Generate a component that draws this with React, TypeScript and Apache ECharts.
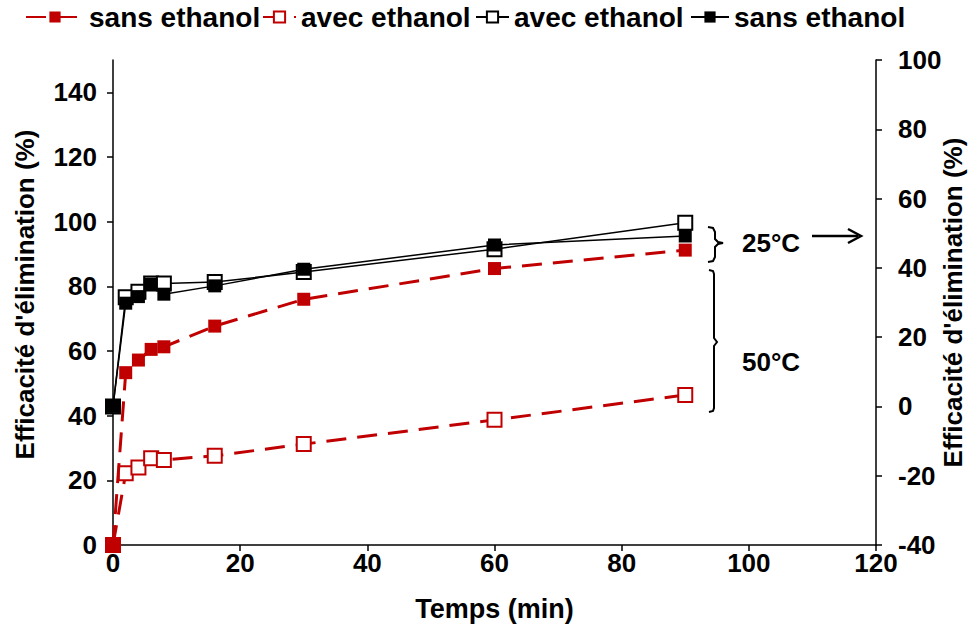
import React, { useEffect, useRef } from "react";
import * as echarts from "echarts";

const times = [0, 2, 4, 6, 8, 16, 30, 60, 90];
const redSans = [0, 53.3, 57.2, 60.5, 61.3, 67.7, 76.0, 85.5, 91.2];
const redAvec = [0, 22.2, 24.0, 26.8, 26.3, 27.6, 31.2, 38.7, 46.4];
const blackAvec = [0, 31.5, 33.1, 35.5, 35.5, 35.9, 38.8, 45.4, 53.0];
const blackSans = [0, 29.8, 31.7, 35.3, 32.4, 34.8, 39.6, 46.6, 49.2];
const leftTicks = [0, 20, 40, 60, 80, 100, 120, 140];
const xTicks = [0, 20, 40, 60, 80, 100, 120];
const rightTicks = [-40, -20, 0, 20, 40, 60, 80, 100];
const seriesNames = [
  "sans ethanol (50°C)",
  "avec ethanol (50°C)",
  "avec ethanol (25°C)",
  "sans ethanol (25°C)",
];

const RED = "#c00000";
const FONT = "Liberation Sans";

const pts = (ys: number[]) => times.map((t, i) => [t, ys[i]]);

export default function App() {
  const ref = useRef<HTMLDivElement>(null);
  useEffect(() => {
    const chart = echarts.init(ref.current!, undefined, { renderer: "svg" });
    const txt = { color: "#000", fontFamily: FONT, fontWeight: "bold" as const, fontSize: 26 };
    const axisLine = { show: true, lineStyle: { color: "#000", width: 1.5 } };
    const axisTick = { show: true, inside: false, length: 6, lineStyle: { color: "#000", width: 1.5 } };
    const legendPos = [
      { left: 25, w: 58 },
      { left: 262, w: 33 },
      { left: 475, w: 33 },
      { left: 690, w: 38 },
    ];
    chart.setOption({
      animation: false,
      backgroundColor: "#fff",
      textStyle: { fontFamily: FONT },
      legend: legendPos.map((p, i) => ({
        top: 3,
        left: p.left,
        padding: 0,
        itemWidth: p.w,
        itemHeight: 14,
        textStyle: { ...txt, fontSize: 28 },
        formatter: (n: string) => n.replace(/ \(.*\)$/, ""),
        data: [seriesNames[i]],
      })),
      grid: { left: 113, right: 103, top: 60, bottom: 90, outerBoundsMode: "none" },
      xAxis: {
        type: "value",
        min: 0,
        max: 120,
        interval: 20,
        name: "Temps (min)",
        nameLocation: "middle",
        nameGap: 50,
        nameTextStyle: { ...txt, fontSize: 27 },
        axisLine,
        axisTick,
        splitLine: { show: false },
        axisLabel: { ...txt, margin: 5, customValues: xTicks },
      },
      yAxis: [
        {
          type: "value",
          min: 0,
          max: 150,
          interval: 20,
          name: "Efficacité d'élimination (%)",
          nameLocation: "middle",
          nameRotate: 90,
          nameGap: 75,
          nameTextStyle: { ...txt, padding: [0, 0, 0, 16] },
          axisLine,
          axisTick: { ...axisTick, customValues: leftTicks },
          splitLine: { show: false },
          axisLabel: { ...txt, margin: 16, customValues: leftTicks },
        },
        {
          type: "value",
          position: "right",
          min: -40,
          max: 100,
          interval: 20,
          name: "Efficacité d'élimination (%)",
          nameLocation: "middle",
          nameRotate: 90,
          nameGap: 64,
          nameMoveOverlap: false,
          nameTextStyle: { ...txt },
          axisLine,
          axisTick: { ...axisTick, customValues: rightTicks },
          splitLine: { show: false },
          axisLabel: { ...txt, margin: 22, customValues: rightTicks },
        },
      ],
      series: [
        {
          name: seriesNames[0],
          type: "line",
          yAxisIndex: 0,
          data: pts(redSans),
          symbol: "rect",
          symbolSize: 13,
          color: RED,
          itemStyle: { color: RED, borderWidth: 0 },
          lineStyle: { color: RED, width: 3, type: [20, 11] },
          z: 3,
        },
        {
          name: seriesNames[1],
          type: "line",
          yAxisIndex: 0,
          data: pts(redAvec),
          symbol: "emptyRect",
          symbolSize: 14,
          color: RED,
          itemStyle: { color: RED, borderColor: RED, borderWidth: 2 },
          lineStyle: { color: RED, width: 3, type: [20, 11] },
          z: 2,
        },
        {
          name: seriesNames[2],
          type: "line",
          yAxisIndex: 1,
          data: pts(blackAvec),
          symbol: "emptyRect",
          symbolSize: 14,
          color: "#000",
          itemStyle: { color: "#000", borderColor: "#000", borderWidth: 2 },
          lineStyle: { color: "#000", width: 1.5 },
          z: 4,
        },
        {
          name: seriesNames[3],
          type: "line",
          yAxisIndex: 1,
          data: pts(blackSans),
          symbol: "rect",
          symbolSize: 13,
          color: "#000",
          itemStyle: { color: "#000", borderWidth: 0 },
          lineStyle: { color: "#000", width: 1.5 },
          z: 5,
        },
      ],
      graphic: [
        {
          type: "polyline",
          shape: {
            points: [
              [708, 227], [713, 228], [715, 232], [715, 239], [718, 242], [723, 243],
              [718, 244], [715, 247], [715, 257], [713, 261], [708, 262],
            ],
          },
          style: { stroke: "#000", lineWidth: 2, fill: null },
        },
        {
          type: "polyline",
          shape: {
            points: [
              [709, 270], [713, 271], [714, 274], [714, 338], [717, 342],
              [714, 346], [714, 408], [713, 411], [709, 412],
            ],
          },
          style: { stroke: "#000", lineWidth: 2, fill: null },
        },
        {
          type: "line",
          shape: { x1: 812, y1: 236, x2: 858, y2: 236 },
          style: { stroke: "#000", lineWidth: 2.5 },
        },
        {
          type: "polyline",
          shape: { points: [[848, 229], [861, 236], [848, 243]] },
          style: { stroke: "#000", lineWidth: 2.5, fill: null },
        },
        {
          type: "text",
          x: 742,
          y: 243,
          style: {
            text: "25°C",
            font: `bold 26px "${FONT}"`,
            fill: "#000",
            align: "left",
            verticalAlign: "middle",
            textAlign: "left",
            textVerticalAlign: "middle",
          },
        },
        {
          type: "text",
          x: 742,
          y: 362,
          style: {
            text: "50°C",
            font: `bold 26px "${FONT}"`,
            fill: "#000",
            align: "left",
            verticalAlign: "middle",
            textAlign: "left",
            textVerticalAlign: "middle",
          },
        },
      ],
    });
    return () => chart.dispose();
  }, []);
  return <div ref={ref} style={{ width: 979, height: 635, position: "absolute", left: 0, top: 0 }} />;
}
